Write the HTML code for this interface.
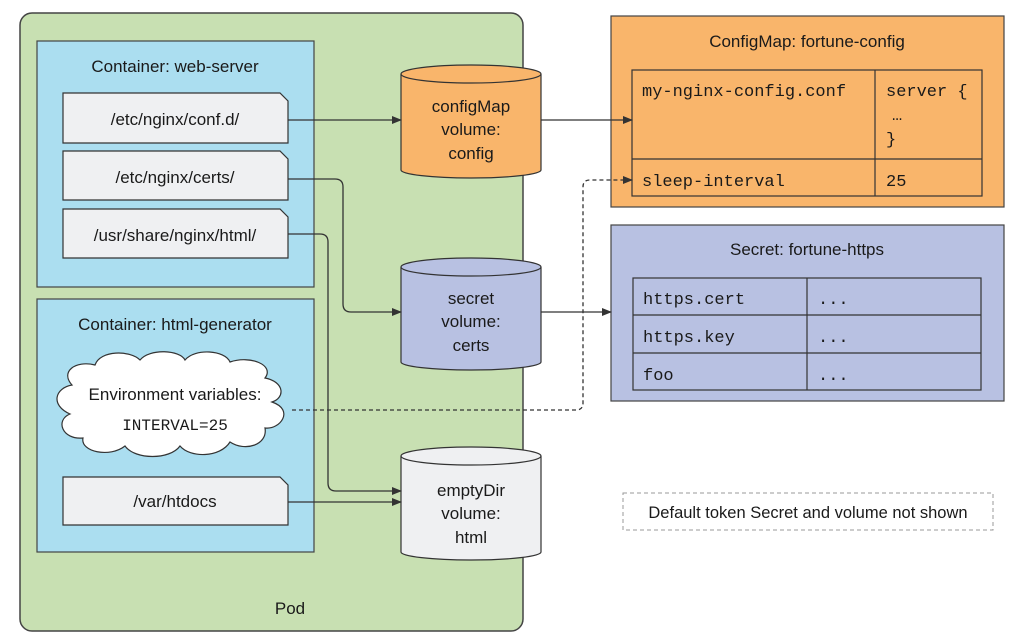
<!DOCTYPE html>
<html><head><style>
html,body{margin:0;padding:0;background:#fff;}
svg text{font-family:"Liberation Sans",sans-serif;fill:#1a1a1a;}
.m{font-family:"Liberation Mono",monospace !important;}
</style></head><body>
<svg width="1024" height="639" viewBox="0 0 1024 639" xmlns="http://www.w3.org/2000/svg">
<defs>
<marker id="a" markerWidth="10" markerHeight="8" refX="9" refY="4" orient="auto" markerUnits="userSpaceOnUse">
<path d="M0,0 L10,4 L0,8 z" fill="#333"/></marker>
</defs>
<rect x="20" y="13" width="503" height="618" rx="12" fill="#c8e0b2" stroke="#444" stroke-width="1.5"/>
<text x="290" y="614" font-size="17" text-anchor="middle">Pod</text>
<rect x="37" y="41" width="277" height="246" fill="#abdef0" stroke="#444" stroke-width="1.2"/>
<text x="175" y="72" font-size="17" text-anchor="middle">Container: web-server</text>
<rect x="37" y="299" width="277" height="253" fill="#abdef0" stroke="#444" stroke-width="1.2"/>
<text x="175" y="330" font-size="17" text-anchor="middle">Container: html-generator</text>
<g fill="#eff0f2" stroke="#333" stroke-width="1.2">
<path d="M63,93 H280 L288,101 V143 H63 Z"/>
<path d="M63,151 H280 L288,159 V200 H63 Z"/>
<path d="M63,209 H280 L288,217 V258 H63 Z"/>
<path d="M63,477 H280 L288,485 V525 H63 Z"/>
</g>
<g font-size="17" text-anchor="middle">
<text x="175" y="125">/etc/nginx/conf.d/</text>
<text x="175" y="183">/etc/nginx/certs/</text>
<text x="175" y="241">/usr/share/nginx/html/</text>
<text x="175" y="507">/var/htdocs</text>
</g>
<path d="M72,385 C60,372 75,360 95,365 C100,350 130,350 140,360 C150,348 180,350 185,360 C195,348 225,350 230,362 C250,355 275,365 265,378 C285,382 285,398 272,402 C295,410 280,430 265,428 C268,445 245,452 230,442 C220,458 190,458 180,446 C170,460 135,460 125,446 C110,458 80,452 83,438 C62,440 55,420 70,414 C50,405 55,388 72,385 Z" fill="#fff" stroke="#333" stroke-width="1.2"/>
<text x="175" y="400" font-size="17" text-anchor="middle">Environment variables:</text>
<text x="175" y="430" font-size="16" text-anchor="middle" class="m">INTERVAL=25</text>
<g stroke="#333" stroke-width="1.2">
<path d="M401,74 V170 A70,8 0 0 0 541,170 V74" fill="#f9b56b"/>
<ellipse cx="471" cy="74" rx="70" ry="9" fill="#f9b56b"/>
<path d="M401,267 V362 A70,8 0 0 0 541,362 V267" fill="#b8c1e2"/>
<ellipse cx="471" cy="267" rx="70" ry="9" fill="#b8c1e2"/>
<path d="M401,456 V552 A70,8 0 0 0 541,552 V456" fill="#eff0f2"/>
<ellipse cx="471" cy="456" rx="70" ry="9" fill="#eff0f2"/>
</g>
<g font-size="17" text-anchor="middle">
<text x="471" y="112">configMap</text><text x="471" y="135">volume:</text><text x="471" y="159">config</text>
<text x="471" y="304">secret</text><text x="471" y="327">volume:</text><text x="471" y="351">certs</text>
<text x="471" y="496">emptyDir</text><text x="471" y="519">volume:</text><text x="471" y="543">html</text>
</g>
<rect x="611" y="16" width="393" height="191" fill="#f9b56b" stroke="#444" stroke-width="1.2"/>
<text x="807" y="47" font-size="17" text-anchor="middle">ConfigMap: fortune-config</text>
<g fill="none" stroke="#333" stroke-width="1.2">
<rect x="632" y="70" width="350" height="126"/>
<line x1="632" y1="159" x2="982" y2="159"/>
<line x1="875" y1="70" x2="875" y2="196"/>
</g>
<g font-size="17">
<text x="642" y="96" class="m">my-nginx-config.conf</text>
<text x="886" y="96" class="m">server {</text>
<text x="892" y="120" class="m">…</text>
<text x="886" y="144" class="m">}</text>
<text x="642" y="186" class="m">sleep-interval</text>
<text x="886" y="186" class="m">25</text>
</g>
<rect x="611" y="225" width="393" height="176" fill="#b8c1e2" stroke="#444" stroke-width="1.2"/>
<text x="807" y="255" font-size="17" text-anchor="middle">Secret: fortune-https</text>
<g fill="none" stroke="#333" stroke-width="1.2">
<rect x="633" y="278" width="348" height="112"/>
<line x1="633" y1="315" x2="981" y2="315"/>
<line x1="633" y1="353" x2="981" y2="353"/>
<line x1="807" y1="278" x2="807" y2="390"/>
</g>
<g font-size="17">
<text x="643" y="304" class="m">https.cert</text><text x="818" y="304" class="m">...</text>
<text x="643" y="342" class="m">https.key</text><text x="818" y="342" class="m">...</text>
<text x="643" y="380" class="m">foo</text><text x="818" y="380" class="m">...</text>
</g>
<rect x="623" y="493" width="370" height="37" fill="#fff" stroke="#999" stroke-width="1" stroke-dasharray="4,3"/>
<text x="808" y="518" font-size="16.5" text-anchor="middle">Default token Secret and volume not shown</text>
<g fill="none" stroke="#333" stroke-width="1.3">
<path d="M288,120 H401" marker-end="url(#a)"/>
<path d="M541,120 H632" marker-end="url(#a)"/>
<path d="M288,179 H335 Q343,179 343,187 V304 Q343,312 351,312 H401" marker-end="url(#a)"/>
<path d="M288,234 H320 Q328,234 328,242 V483 Q328,491 336,491 H401" marker-end="url(#a)"/>
<path d="M288,502 H401" marker-end="url(#a)"/>
<path d="M541,312 H611" marker-end="url(#a)"/>
<path d="M292,410 H576 Q583,410 583,403 V187 Q583,180 590,180 H632" stroke-dasharray="4,3" marker-end="url(#a)"/>
</g>
</svg>
</body></html>
